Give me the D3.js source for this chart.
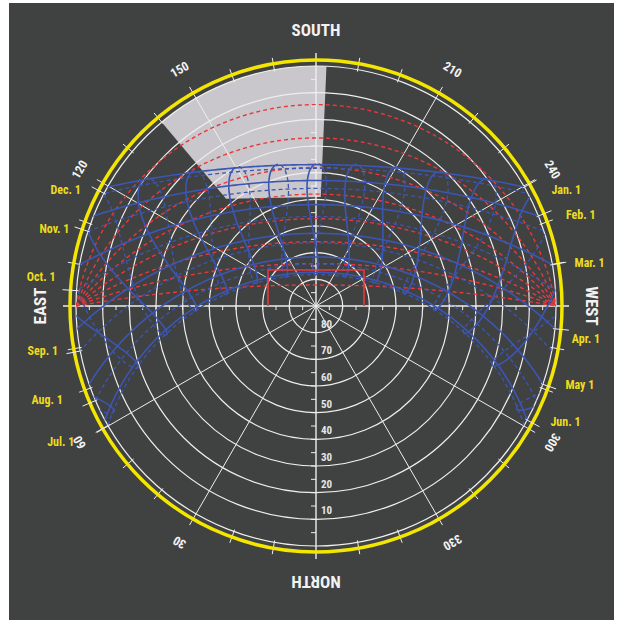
<!DOCTYPE html>
<html><head><meta charset="utf-8">
<script src="https://cdn.jsdelivr.net/npm/d3@7"></script>
<style>body{margin:0;background:#fff}</style>
</head><body>
<svg id="chart" width="624" height="624"></svg>
<script>
// ---------------- data ----------------
const latitude = 38;
const altitudeRings = [0, 10, 20, 30, 40, 50, 60, 70, 80];
const altitudeLabels = ["10", "20", "30", "40", "50", "60", "70", "80"];
const azimuthLabels = ["30", "60", "120", "150", "210", "240", "300", "330"];
const cardinalNames = ["NORTH", "EAST", "SOUTH", "WEST"];
const cardinalAz = [0, 90, 180, 270];
// 1st of each month: label, declination (deg), equation of time (min)
const monthLabels = ["Jan. 1","Feb. 1","Mar. 1","Apr. 1","May 1","Jun. 1","Jul. 1","Aug. 1","Sep. 1","Oct. 1","Nov. 1","Dec. 1"];
const firstDecl = [-23.0, -17.2, -7.8, 4.3, 14.9, 22.0, 23.1, 18.1, 8.5, -2.9, -14.2, -21.7];
const firstEoT  = [-3.2, -13.6, -12.5, -4.1, 2.9, 2.2, -3.8, -6.3, 0.0, 10.2, 16.4, 11.0];
// 15th of each month
const midDecl = [-21.2, -12.9, -2.4, 9.7, 18.8, 23.3, 21.6, 14.0, 3.0, -8.4, -18.4, -23.3];
const midEoT  = [-9.2, -14.2, -9.0, 0.0, 3.7, -0.3, -6.0, -4.5, 4.7, 14.1, 15.4, 4.6];
// solstices (Jun. 21, Dec. 21)
const solsticeDecl = [23.44, -23.44];
const solsticeEoT = [-1.6, 1.9];
const clockHours = [5, 6, 7, 8, 9, 10, 11, 12, 13, 14, 15, 16, 17, 18, 19];
const vsaAngles = [10, 20, 30, 40, 50, 60, 70, 80, 90];
// grey mask: corners (azimuth, altitude) of its lower edge
const maskAz = [140, 182.5];
const maskAlt = [29.5, 41.1];

// ---------------- geometry ----------------
const cx = 316, cy = 306, R = 240;
const rad = Math.PI / 180;
const rEq = d3.scaleLinear().domain([90, 0]).range([0, R]);       // grid (equidistant)
const rStScale = d3.scaleLinear().domain([0, 1]).range([0, R]);    // sun paths (stereographic)
const rSt = alt => rStScale(Math.tan((90 - alt) * rad / 2));
const pt = (az, r) => [cx - r * Math.sin(az * rad), cy + r * Math.cos(az * rad)];

function sunPos(dec, Hdeg) {
  const f = latitude * rad, d = dec * rad, h = Hdeg * rad;
  const sa = Math.sin(f) * Math.sin(d) + Math.cos(f) * Math.cos(d) * Math.cos(h);
  const alt = Math.asin(Math.max(-1, Math.min(1, sa))) / rad;
  let az = Math.atan2(-Math.sin(h) * Math.cos(d), Math.sin(d) * Math.cos(f) - Math.cos(d) * Math.sin(f) * Math.cos(h)) / rad;
  if (az < 0) az += 360;
  return { alt, az };
}
const sunXY = p => pt(p.az, rSt(p.alt));

const svg = d3.select("#chart");
svg.append("rect").attr("x", 9).attr("y", 3).attr("width", 605).attr("height", 617).attr("fill", "#404141");

const defs = svg.append("defs");
defs.append("clipPath").attr("id", "hz").append("circle").attr("cx", cx).attr("cy", cy).attr("r", R);

const line = d3.line();

// ---- shading mask (grey) ----
{
  const pts = [];
  const [a0, a1] = maskAz;
  for (let a = a1; a >= a0; a -= 0.5) pts.push(pt(a, R));
  pts.push(sunXY({ az: a0, alt: maskAlt[0] }));
  pts.push(sunXY({ az: a1, alt: maskAlt[1] }));
  svg.append("path").attr("d", line(pts) + "Z").attr("fill", "#c9c7cb");
}

// ---- white grid ----
const grid = svg.append("g").attr("stroke", "#eeeeee").attr("fill", "none");
grid.selectAll("circle").data(altitudeRings).join("circle")
  .attr("cx", cx).attr("cy", cy).attr("r", d => rEq(d)).attr("stroke-width", 1.2);
const radialAz = d3.range(0, 360, 30);
grid.selectAll("line.rad").data(radialAz).join("line").attr("class", "rad")
  .attr("x1", cx).attr("y1", cy)
  .attr("x2", d => pt(d, 253)[0]).attr("y2", d => pt(d, 253)[1])
  .attr("stroke-width", d => d % 90 === 0 ? 1.4 : 1);
grid.selectAll("line.rim").data(d3.range(0, 360, 10).filter(d => d % 30 !== 0)).join("line").attr("class", "rim")
  .attr("x1", d => pt(d, 238)[0]).attr("y1", d => pt(d, 238)[1])
  .attr("x2", d => pt(d, 252)[0]).attr("y2", d => pt(d, 252)[1]).attr("stroke-width", 1);
const tickAlts = d3.range(5, 90, 5);
const axT = svg.append("g").attr("stroke", "#eeeeee").attr("stroke-width", 1);
[0, 180].forEach(az => {
  axT.selectAll(null).data(tickAlts).join("line")
    .attr("x1", cx - 5).attr("x2", cx)
    .attr("y1", d => pt(az, rEq(d))[1]).attr("y2", d => pt(az, rEq(d))[1]);
});
[90, 270].forEach(az => {
  axT.selectAll(null).data(tickAlts).join("line")
    .attr("y1", cy).attr("y2", cy + 4)
    .attr("x1", d => pt(az, rEq(d))[0]).attr("x2", d => pt(az, rEq(d))[0]);
});

// ---- red VSA lines ----
const red = svg.append("g").attr("clip-path", "url(#hz)").attr("fill", "none").attr("stroke", "#e8383c")
  .attr("stroke-width", 1.4).attr("stroke-dasharray", "4,3");
red.selectAll("path").data(vsaAngles).join("path").attr("d", e => {
  const pts = d3.range(-90, 90.5, 1).map(h => {
    const alt = e >= 90 ? 90 : Math.atan(Math.tan(e * rad) * Math.cos(h * rad)) / rad;
    return sunXY({ az: 180 + h, alt });
  });
  return line(pts);
});

// ---- blue sun paths ----
const blue = svg.append("g").attr("clip-path", "url(#hz)").attr("fill", "none").attr("stroke", "#3b56b3");
const dayPath = dec => {
  const pts = d3.range(-180, 180.5, 1).map(h => sunPos(dec, h)).filter(p => p.alt > -15).map(sunXY);
  return line(pts);
};
blue.selectAll("path.day").data(firstDecl).join("path").attr("class", "day")
  .attr("d", dayPath).attr("stroke-width", (d, i) => i < 6 ? 1.6 : 1.3)
  .attr("stroke-dasharray", (d, i) => i < 6 ? null : "4,3");

// hour lines: first half of the year (Jan.1 -> Jun.21) solid, second half (Jun.21 -> Jan.1) dashed
const firstHalf = { dec: [], eot: [] }, secondHalf = { dec: [solsticeDecl[0]], eot: [solsticeEoT[0]] };
for (let i = 0; i < 6; i++) { firstHalf.dec.push(firstDecl[i], midDecl[i]); firstHalf.eot.push(firstEoT[i], midEoT[i]); }
firstHalf.dec.push(solsticeDecl[0]); firstHalf.eot.push(solsticeEoT[0]);
for (let i = 6; i < 12; i++) { secondHalf.dec.push(firstDecl[i], midDecl[i]); secondHalf.eot.push(firstEoT[i], midEoT[i]); }
secondHalf.dec.push(solsticeDecl[1], firstDecl[0]); secondHalf.eot.push(solsticeEoT[1], firstEoT[0]);
const hourLine = d3.line().curve(d3.curveCatmullRom.alpha(0.5));
const hourPath = (t, half) => hourLine(half.dec.map((d, i) => sunXY(sunPos(d, 15 * (t - 12) + half.eot[i] / 4))));
blue.selectAll("path.h2").data(clockHours).join("path").attr("class", "h2")
  .attr("d", t => hourPath(t, secondHalf)).attr("stroke-width", 1.3).attr("stroke-dasharray", "4,3");
blue.selectAll("path.h1").data(clockHours).join("path").attr("class", "h1")
  .attr("d", t => hourPath(t, firstHalf)).attr("stroke-width", 1.6);

// ---- red frame ----
const unit = d3.scaleLinear().domain([0, 1]).range([0, R]);
svg.append("path").attr("fill", "none").attr("stroke", "#e8383c").attr("stroke-width", 1.6)
  .attr("d", line([[cx - unit(0.2), cy], [cx - unit(0.2), cy - unit(0.15)], [cx + unit(0.2), cy - unit(0.15)], [cx + unit(0.2), cy]]));

// ---- yellow rim ----
svg.append("circle").attr("cx", cx).attr("cy", cy).attr("r", 246).attr("fill", "none")
  .attr("stroke", "#f3e600").attr("stroke-width", 3.5);

// ---- month ticks & labels ----
const riseSetAz = (dec, west) => {
  const a = Math.acos(Math.sin(dec * rad) / Math.cos(latitude * rad)) / rad;
  return west ? 360 - a : a;
};
const font = "'Liberation Sans Narrow','Roboto Condensed','DejaVu Sans Condensed','Arial Narrow',sans-serif";
const labelNudge = { "Jan. 1": [0, 7], "Apr. 1": [-4, 10], "Oct. 1": [0, -12], "Jul. 1": [-18, 14], "Aug. 1": [-9, -2], "Nov. 1": [4, 0], "Feb. 1": [4, 2] };
const months = monthLabels.map((m, i) => ({ m, az: riseSetAz(firstDecl[i], i < 6), west: i < 6 }));
svg.append("g").attr("stroke", "#eeeeee").attr("stroke-width", 1).selectAll("line").data(months).join("line")
  .attr("x1", d => pt(d.az, 238)[0]).attr("y1", d => pt(d.az, 238)[1])
  .attr("x2", d => pt(d.az, 254)[0]).attr("y2", d => pt(d.az, 254)[1]);
svg.append("g").selectAll("text").data(months).join("text")
  .each(function (d) {
    const n = labelNudge[d.m] || [0, 0];
    const y = pt(d.az, 246)[1] + n[1];
    const dx = Math.sqrt(262 * 262 - (y - cy) * (y - cy));
    d3.select(this).attr("x", (d.west ? cx + dx : cx - dx) + n[0]).attr("y", y);
  })
  .attr("text-anchor", d => d.west ? "start" : "end").attr("dominant-baseline", "middle")
  .attr("font-family", font).attr("font-weight", "bold").attr("font-size", 12).attr("fill", "#ecdc1c")
  .text(d => d.m);

// ---- azimuth & cardinal labels ----
const lab = svg.append("g").attr("font-family", font).attr("font-weight", "bold").attr("fill", "#f2f2f2")
  .attr("text-anchor", "middle").attr("dominant-baseline", "middle");
lab.selectAll("text.az").data(azimuthLabels).join("text").attr("class", "az")
  .attr("transform", d => { const p = pt(+d, 272); return `translate(${p[0]},${p[1]}) rotate(${+d - 180})`; })
  .attr("font-size", 12.5).text(d => d);
lab.selectAll("text.card").data(cardinalNames).join("text").attr("class", "card")
  .attr("transform", (d, i) => { const p = pt(cardinalAz[i], 274); return `translate(${p[0]},${p[1]}) rotate(${cardinalAz[i] - 180})`; })
  .attr("font-size", 17).text(d => d);
lab.selectAll("text.alt").data(altitudeLabels).join("text").attr("class", "alt")
  .attr("x", cx + 5).attr("y", d => pt(0, rEq(+d))[1] - 8).attr("text-anchor", "start")
  .attr("font-size", 11).attr("fill", "#e6e6e6").text(d => d);
</script>
</body></html>
